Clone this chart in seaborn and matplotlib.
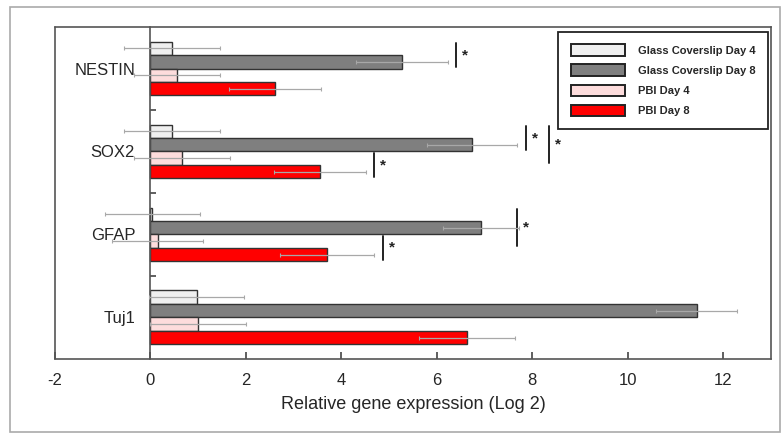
import numpy as np
import pandas as pd
import matplotlib
matplotlib.use("Agg")
import matplotlib.pyplot as plt
from matplotlib.patches import Rectangle
import seaborn as sns

# data
genes = ["NESTIN", "SOX2", "GFAP", "Tuj1"]
groups = ["Glass Coverslip Day 4", "Glass Coverslip Day 8", "PBI Day 4", "PBI Day 8"]
glass_d4 = [0.45, 0.45, 0.04, 0.97]
glass_d8 = [5.27, 6.74, 6.92, 11.45]
pbi_d4 = [0.55, 0.66, 0.15, 1.0]
pbi_d8 = [2.61, 3.55, 3.70, 6.63]
glass_d4_err = [1.0, 1.0, 1.0, 1.0]
glass_d8_err = [0.97, 0.95, 0.8, 0.85]
pbi_d4_err = [0.9, 1.0, 0.95, 1.0]
pbi_d8_err = [0.97, 0.97, 0.98, 1.0]

# significance bars: gene, first bar, last bar, x position
sig_gene = ["NESTIN", "SOX2", "SOX2", "SOX2", "GFAP", "GFAP"]
sig_from = [0, 0, 0, 2, 0, 2]
sig_to = [1, 1, 2, 3, 2, 3]
sig_x = [6.4, 7.87, 8.35, 4.68, 7.68, 4.87]

colors = ["#efefef", "#7f7f7f", "#fddcdc", "#ff0000"]

values = [glass_d4, glass_d8, pbi_d4, pbi_d8]
errors = [glass_d4_err, glass_d8_err, pbi_d4_err, pbi_d8_err]
df = pd.DataFrame({
    "gene": genes * 4,
    "group": np.repeat(groups, 4),
    "value": np.concatenate(values),
})

sns.set_theme(style="ticks")
plt.rcParams["font.family"] = ["Liberation Sans", "DejaVu Sans"]
plt.rcParams["axes.unicode_minus"] = False

fig = plt.figure(figsize=(7.81, 4.33), dpi=100)
ax = fig.add_axes([0.0704, 0.171, 0.9166, 0.7666])

sns.barplot(data=df, x="value", y="gene", hue="group", order=genes, hue_order=groups,
            palette=dict(zip(groups, colors)), saturation=1, orient="h", width=0.65,
            edgecolor="#333333", linewidth=1, errorbar=None, ax=ax)

# error bars at the bar ends
for cont, err in zip(ax.containers, errors):
    ys = [p.get_y() + p.get_height() / 2 for p in cont]
    xs = [p.get_width() for p in cont]
    ax.errorbar(xs, ys, xerr=err, fmt="none", ecolor="#a8a8a8", elinewidth=0.9,
                capsize=1.5, capthick=0.8, zorder=3)

# significance markers
for g, a, b, x in zip(sig_gene, sig_from, sig_to, sig_x):
    gi = genes.index(g)
    pa = ax.containers[a][gi]
    pb = ax.containers[b][gi]
    y0 = pa.get_y() + 0.02
    y1 = pb.get_y() + pb.get_height() - 0.02
    ax.plot([x, x], [y0, y1], color="#222222", lw=1.4)
    ax.text(x + 0.12, (y0 + y1) / 2, "*", fontsize=11, fontweight="bold",
            ha="left", va="center", color="#222222")

ax.set_xlim(-2, 13)
ax.set_ylim(3.5, -0.5)
ax.set_xticks([-2, 0, 2, 4, 6, 8, 10, 12])
ax.tick_params(axis="x", direction="in", length=5, width=1.2, color="#444444",
               labelsize=12, pad=10)

# y axis sits at x = 0
ax.spines["left"].set_position(("data", 0))
ax.set_yticks(range(len(genes)))
ax.set_yticklabels(genes)
ax.tick_params(axis="y", which="major", length=0, labelsize=12, pad=11)
ax.set_yticks([0.5, 1.5, 2.5], minor=True)
ax.tick_params(axis="y", which="minor", direction="in", length=4, width=1.2, color="#444444")
ax.set_ylabel("")
ax.set_xlabel("Relative gene expression (Log 2)", fontsize=13, labelpad=6)

for s in ["top", "right", "bottom", "left"]:
    ax.spines[s].set_visible(True)
    ax.spines[s].set_color("#555555")
    ax.spines[s].set_linewidth(1.2)
ax.plot([0, 0], [0, 1], transform=ax.transAxes, color="#555555", lw=1.2, clip_on=False)

handles, labels = ax.get_legend_handles_labels()
for h in handles:
    h.set_edgecolor("#222222")
    h.set_linewidth(1.4)
ax.legend(handles, labels, loc="upper right", bbox_to_anchor=(1.004, 1.003),
          prop={"size": 8, "weight": "bold"}, frameon=True, fancybox=False,
          edgecolor="#222222", framealpha=1, handlelength=4.9, handleheight=1.2,
          handletextpad=1.15, labelspacing=0.78, borderpad=1.15)
ax.get_legend().get_frame().set_linewidth(1.3)

fig.patches.append(Rectangle((10 / 781, 1 / 433), 1 - 11 / 781, 1 - 8 / 433,
                             transform=fig.transFigure, fill=False,
                             edgecolor="#aaaaaa", lw=1.2))

fig.savefig("out.png", dpi=100)
